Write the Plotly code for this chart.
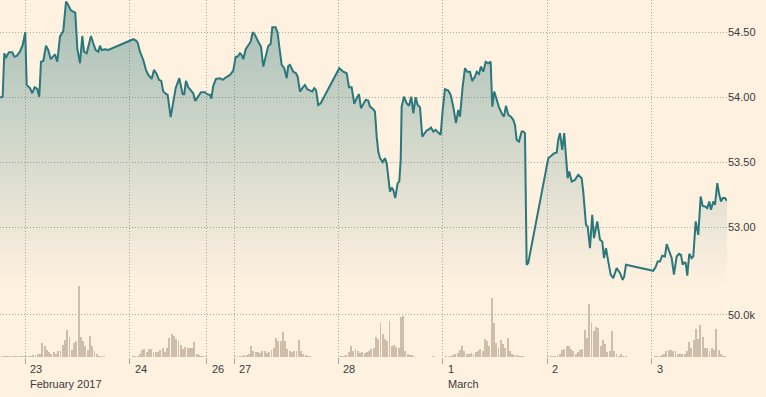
import plotly.graph_objects as go

# ---------------- data ----------------
# x unit: hours of futures trading time, counted from 00:00 ET on 23 Feb 2017
day_labels = ["23", "24", "26", "27", "28", "1", "2", "3"]
session_hours = [23, 17, 6, 23, 23, 23, 23]          # trading hours in each labelled day
month_labels = {"23": "February 2017", "1": "March"}
first_hour = -5.57
last_hour = 154.60

price_hours = [
    -5.57, -4.98, -4.63, -4.25, -3.97, -3.59, -2.86, -2.42, -1.89, -1.17,
    -0.57, 0.0, 0.31, 1.04, 1.54, 2.07, 2.64, 3.08, 3.46, 3.97,
    4.56, 5.07, 5.60, 6.54, 7.05, 7.64, 8.37, 8.97, 9.47, 10.00,
    10.57, 11.02, 11.46, 12.05, 12.56, 12.93, 13.53, 14.03, 14.47, 14.98,
    15.51, 16.08, 16.46, 16.83, 17.56, 18.29, 23.79, 24.39, 24.76, 25.27,
    26.00, 26.59, 27.10, 27.85, 28.35, 28.95, 29.46, 29.96, 30.40, 31.00,
    31.37, 32.03, 32.61, 33.13, 33.93, 34.68, 35.03, 35.40, 35.91, 36.44,
    37.01, 37.45, 38.11, 38.71, 39.59, 40.10, 40.69, 40.98, 41.42, 42.01,
    42.89, 43.49, 44.22, 44.81, 45.10, 45.82, 46.35, 46.79, 47.30, 47.67,
    48.03, 48.56, 49.13, 49.66, 50.10, 50.61, 51.33, 51.93, 52.43, 53.03,
    53.53, 54.06, 54.42, 55.16, 55.61, 55.96, 56.49, 57.06, 57.59, 57.94,
    58.32, 59.04, 59.64, 60.01, 60.52, 61.03, 61.62, 62.13, 62.72, 63.23,
    63.67, 64.05, 64.55, 65.08, 69.18, 70.06, 70.81, 71.32, 71.91, 72.26,
    72.48, 73.01, 73.52, 73.96, 74.46, 74.99, 75.56, 75.94, 76.67, 77.04,
    77.42, 77.77, 78.15, 78.74, 79.25, 79.62, 80.35, 80.72, 81.07, 81.51,
    82.04, 82.40, 82.71, 82.92, 83.43, 84.02, 84.53, 85.04, 85.48, 86.01,
    86.45, 86.96, 87.46, 87.90, 88.43, 89.00, 89.38, 89.89, 90.41, 90.99,
    91.51, 91.96, 92.46, 93.19, 93.72, 94.29, 94.89, 95.39, 95.77, 96.36,
    96.87, 97.38, 97.97, 98.48, 99.07, 99.45, 99.95, 100.39, 100.90, 101.43,
    102.00, 102.53, 102.89, 103.32, 103.85, 104.36, 104.96, 105.46, 105.90, 106.42,
    107.01, 107.52, 107.89, 108.26, 108.77, 109.36, 109.71, 110.09, 110.46, 110.81,
    115.22, 115.97, 116.54, 117.07, 117.42, 117.80, 118.30, 118.74, 119.12, 119.49,
    119.84, 120.38, 121.10, 121.83, 122.58, 122.93, 123.53, 123.90, 124.41, 124.91,
    125.29, 126.02, 126.61, 127.12, 127.50, 127.94, 128.44, 128.97, 129.54, 130.29,
    131.02, 131.61, 131.96, 132.34, 138.35, 138.88, 139.32, 139.83, 140.34, 140.93,
    141.31, 141.81, 142.41, 142.92, 143.51, 144.02, 144.46, 144.84, 145.19, 145.50,
    145.85, 146.29, 146.81, 147.17, 147.70, 148.27, 148.80, 149.24, 149.75, 150.25,
    150.69, 151.07, 151.58, 151.95, 152.46, 152.90, 153.28, 153.65, 154.16, 154.60,
]
price_values = [
    53.997, 54.004, 54.338, 54.300, 54.325, 54.346, 54.346, 54.312, 54.317, 54.350,
    54.402, 54.500, 54.094, 54.069, 54.030, 54.076, 54.063, 54.004, 54.273, 54.279,
    54.396, 54.363, 54.292, 54.330, 54.273, 54.466, 54.510, 54.735, 54.710, 54.671,
    54.658, 54.650, 54.376, 54.261, 54.471, 54.350, 54.338, 54.415, 54.471, 54.415,
    54.363, 54.350, 54.396, 54.363, 54.369, 54.363, 54.446, 54.435, 54.420, 54.350,
    54.286, 54.210, 54.171, 54.140, 54.210, 54.179, 54.133, 54.125, 54.043, 54.025,
    54.017, 53.846, 53.979, 54.069, 54.146, 54.023, 54.023, 54.125, 54.076, 54.050,
    54.030, 53.971, 54.004, 54.038, 54.038, 54.023, 54.017, 53.989, 54.087, 54.140,
    54.146, 54.133, 54.153, 54.163, 54.171, 54.204, 54.312, 54.312, 54.338, 54.325,
    54.292, 54.369, 54.402, 54.427, 54.500, 54.479, 54.427, 54.389, 54.235, 54.312,
    54.394, 54.410, 54.538, 54.538, 54.492, 54.389, 54.248, 54.223, 54.146, 54.240,
    54.248, 54.196, 54.184, 54.158, 54.043, 54.069, 54.094, 54.061, 54.050, 54.043,
    54.069, 54.056, 53.940, 53.953, 54.223, 54.196, 54.184, 54.076, 54.076, 54.004,
    53.948, 53.992, 54.023, 53.915, 53.948, 53.979, 53.973, 53.927, 53.907, 53.889,
    53.696, 53.581, 53.530, 53.500, 53.530, 53.492, 53.273, 53.304, 53.286, 53.223,
    53.338, 53.350, 53.517, 53.927, 54.004, 53.953, 53.933, 54.004, 53.876, 54.000,
    53.940, 53.923, 53.696, 53.715, 53.743, 53.753, 53.766, 53.735, 53.748, 53.727,
    53.710, 53.902, 54.061, 54.050, 54.017, 53.927, 53.800, 53.902, 53.850, 54.081,
    54.223, 54.196, 54.196, 54.125, 54.158, 54.196, 54.179, 54.235, 54.196, 54.273,
    54.261, 54.273, 53.927, 54.043, 53.973, 53.923, 53.876, 53.850, 53.933, 53.863,
    53.850, 53.825, 53.786, 53.671, 53.658, 53.735, 53.735, 53.723, 52.710, 52.723,
    53.530, 53.556, 53.569, 53.573, 53.671, 53.723, 53.594, 53.723, 53.543, 53.376,
    53.427, 53.350, 53.363, 53.402, 53.376, 53.273, 53.017, 53.004, 52.838, 53.094,
    52.915, 53.043, 52.902, 52.889, 52.761, 52.838, 52.735, 52.633, 52.607, 52.684,
    52.646, 52.594, 52.620, 52.710, 52.663, 52.692, 52.735, 52.735, 52.779, 52.773,
    52.869, 52.825, 52.761, 52.633, 52.773, 52.794, 52.786, 52.710, 52.727, 52.723,
    52.625, 52.794, 52.761, 52.773, 53.043, 52.940, 53.235, 53.163, 53.158, 53.146,
    53.196, 53.133, 53.196, 53.171, 53.338, 53.248, 53.196, 53.223, 53.223, 53.202,
]

# half-hour volume (thousands of contracts), one list per trading day
volume_step = 0.5
vol_22_start = -5.5
vol_22 = [1.2, 0.8, 1.2, 0.8, 1.2, 0.8, 1.2, 0.8, 1.6, 0.8, 1.2]
vol_23 = [0.8, 1.2, 1.6, 2, 2.8, 3.2, 4, 17, 12.6, 8, 6, 4, 5.5, 4, 6.7, 7.5,
          14, 20, 31.5, 23.6, 8, 17, 18.5, 83.5, 23.6, 18.5, 13.4, 8, 25, 13.4,
          7.5, 4, 1.6, 0.8, 0.8, 0.5, 0, 0, 0, 0, 0, 0, 0, 0, 0, 0]
vol_24 = [0.5, 0.8, 1.2, 1.6, 3, 8, 9, 6, 9.5, 9, 5.5, 6.5, 5.5, 8, 11, 6, 11,
          22, 27, 24.5, 21, 18.5, 14.5, 10, 11.5, 10.5, 11, 11, 18, 4, 2, 1.2, 1, 0.8]
vol_26 = [0.5, 0.5, 0.4, 0.5, 0.4, 0.5, 0.5, 0.4, 0.5, 0.5, 0.4, 0.5]
vol_27 = [0.8, 0.8, 1.2, 1.6, 2, 2.4, 3, 13.4, 7.5, 5.5, 5.5, 4.7, 7.5, 6.7, 4.7,
          5.5, 8.7, 10.6, 23, 18.5, 19.3, 29.5, 19.3, 9.9, 6.7, 5.5, 7.5, 6.7, 20.5,
          6.7, 4, 2.4, 1.6, 0.8, 0.5, 0.5, 0.5, 0.5, 0.5, 0, 0, 0, 0, 0, 0, 0]
vol_28 = [1, 1, 1.5, 2, 5.5, 13, 7.5, 9.5, 6.7, 4.7, 5.5, 5, 5.5, 7.5, 9.5, 11,
          24, 21, 40, 27, 21, 18.5, 43, 13.5, 14.5, 11.5, 10.6, 47, 49, 6.7, 4,
          2.8, 2.8, 0.8, 0.5, 0.5, 0.5, 0.5, 0.5, 0.5, 0.5, 1.6, 0.5, 0.5, 0.5, 0.5]
vol_01 = [0.5, 0.8, 0.8, 1.6, 2.8, 4, 4.7, 8.7, 13.4, 6.7, 4, 4, 4.7, 4, 5.5,
          7.5, 9.5, 6.7, 21, 18.5, 12.6, 69.5, 40, 16.5, 10.6, 20.5, 15, 10.6,
          22.5, 7.5, 4, 2.8, 2, 1.6, 0.8, 0.8, 0.5, 0.3, 0, 0, 0, 0, 0, 0, 0, 0]
vol_02 = [0.8, 1.6, 0.8, 1.6, 2.8, 4, 8, 9.5, 13.4, 12.6, 9.5, 6.7, 4, 5.5, 8.7,
          9.5, 31.5, 22.5, 63, 40, 30.3, 35.5, 34.7, 13.4, 19.7, 15.8, 5.5, 6.7,
          30.3, 6.7, 4, 1.6, 3.2, 1.6, 1.6, 0.5, 0, 0, 0, 0, 0, 0, 0, 0, 0, 0]
vol_03 = [0.5, 0.8, 1.6, 1.6, 2, 4, 6.7, 8.7, 8, 7.5, 7, 4, 4, 4, 4, 6.7, 17.7,
          10.6, 20.5, 33.1, 21.3, 38.2, 23.6, 10.6, 10.6, 6.7, 10.6, 7.9, 33.1,
          7.9, 4, 1.6, 1.6]
volume_days = [vol_23, vol_24, vol_26, vol_27, vol_28, vol_01, vol_02, vol_03]

price_ticks = [53.0, 53.5, 54.0, 54.5]
volume_ticks = [50]
volume_tick_text = ["50.0k"]

assert len(price_hours) == len(price_values)

# ---------------- derived ----------------
day_starts = [0.0]
for h in session_hours:
    day_starts.append(day_starts[-1] + h)

vol_x, vol_y = [], []
for i, v in enumerate(vol_22):
    vol_x.append(vol_22_start + volume_step * i + volume_step / 2)
    vol_y.append(v)
for start, vols in zip(day_starts, volume_days):
    for i, v in enumerate(vols):
        vol_x.append(start + volume_step * i + volume_step / 2)
        vol_y.append(v)

# ---------------- style ----------------
BG = "#fff1e0"
LINE = "#2a787c"
VOL = "#cdbda9"
GRID = "#aea69c"
TEXT = "#3a3a3a"
FONT = "Liberation Sans, Arial, sans-serif"

P_TOP, P_BOT = 54.748, 52.549

fig = go.Figure()
fig.add_trace(go.Scatter(
    x=price_hours, y=price_values, mode="lines",
    line=dict(color=LINE, width=2),
    fill="tozeroy",
    fillgradient=dict(type="vertical",
                      colorscale=[[0, "rgba(42,120,124,0)"], [1, "rgba(42,120,124,0.42)"]],
                      start=P_BOT, stop=P_TOP),
    xaxis="x", yaxis="y", hoverinfo="skip",
))
fig.add_trace(go.Bar(
    x=vol_x, y=vol_y, width=0.42,
    marker=dict(color=VOL, line=dict(width=0)),
    xaxis="x", yaxis="y2", hoverinfo="skip",
))

grid = dict(showgrid=True, gridcolor=GRID, gridwidth=1, griddash="1px,2px",
            zeroline=False, showline=False)

fig.update_layout(
    width=766, height=397,
    margin=dict(l=0, r=39, t=0, b=40),
    paper_bgcolor=BG, plot_bgcolor=BG,
    showlegend=False, bargap=0, hovermode=False,
    font=dict(family=FONT, size=11, color=TEXT),
    xaxis=dict(range=[first_hour, last_hour], anchor="y2", tickvals=day_starts,
               showticklabels=False, ticks="outside", ticklen=6, tickwidth=1,
               tickcolor="#b0a79c", **grid),
    yaxis=dict(domain=[0.2, 1], range=[P_BOT, P_TOP], side="right", anchor="x",
               tickvals=price_ticks, tickformat=".2f", ticks="",
               tickfont=dict(family=FONT, size=11, color=TEXT), **grid),
    yaxis2=dict(domain=[0, 0.2], range=[0, 84.5], side="right", anchor="x",
                tickvals=volume_ticks, ticktext=volume_tick_text, ticks="",
                tickfont=dict(family=FONT, size=11, color=TEXT), **grid),
)

annotations = []
for lab, x in zip(day_labels, day_starts):
    annotations.append(dict(x=x, xref="x", y=0, yref="paper", text=lab, showarrow=False,
                            xanchor="left", yanchor="middle", xshift=3, yshift=-12,
                            font=dict(family=FONT, size=11, color=TEXT)))
    if lab in month_labels:
        annotations.append(dict(x=x, xref="x", y=0, yref="paper", text=month_labels[lab],
                                showarrow=False, xanchor="left", yanchor="middle",
                                xshift=3, yshift=-27,
                                font=dict(family=FONT, size=11, color=TEXT)))
fig.update_layout(annotations=annotations)

fig.write_html("out.html", config={"displayModeBar": False, "staticPlot": True},
               post_script="document.body.style.margin='0';")
